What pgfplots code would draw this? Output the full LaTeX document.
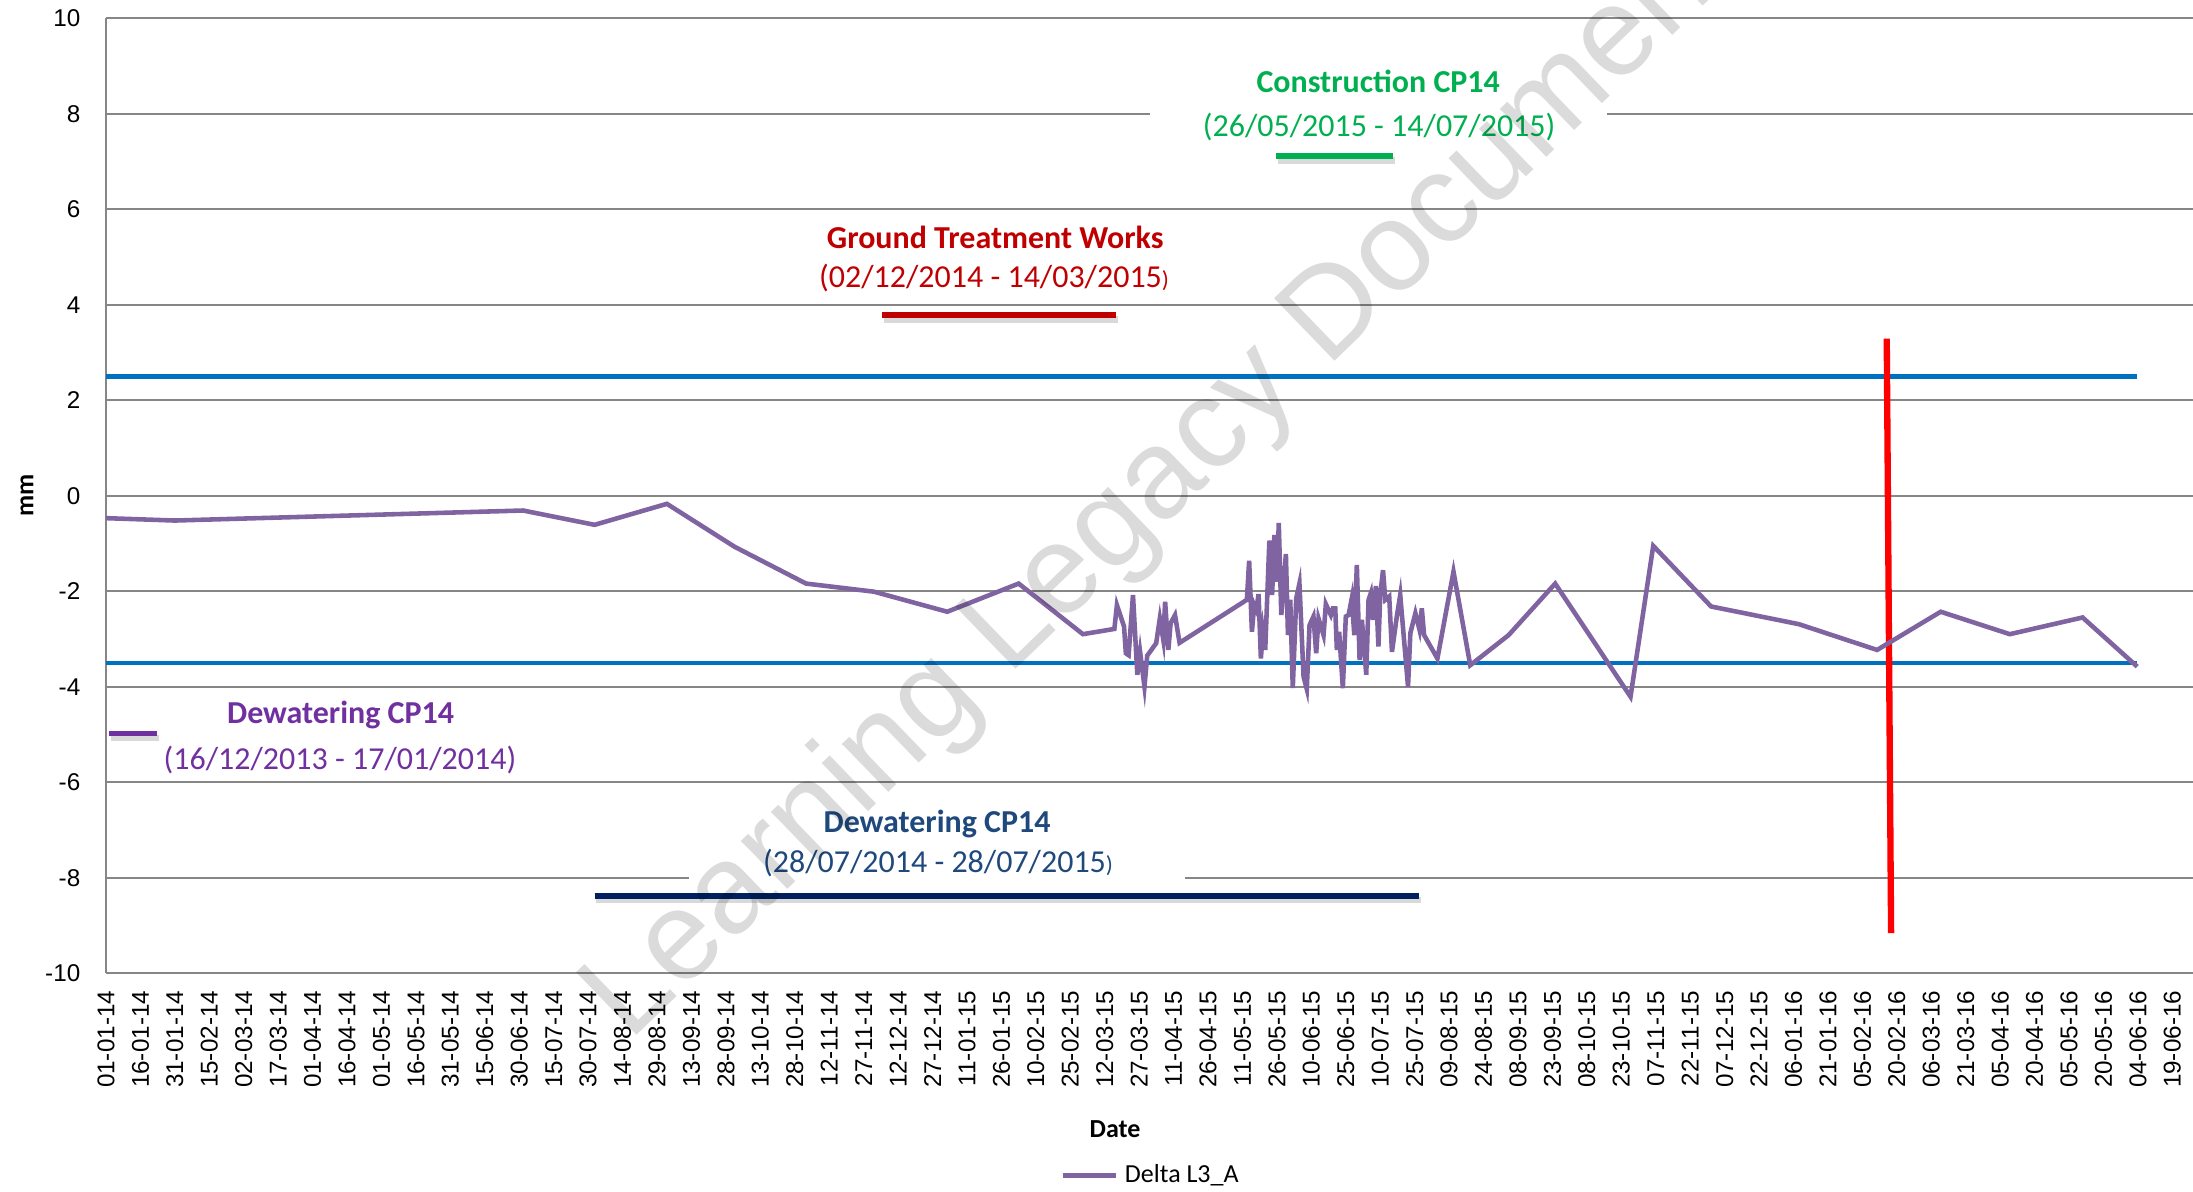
\documentclass[border=0pt]{standalone}
\usepackage{fontspec}
\setmainfont{Carlito}
\newfontfamily\arialf{Liberation Sans}
\usepackage{pgfplots}
\pgfplotsset{compat=1.18}
\definecolor{dataP}{RGB}{128,100,162}
\definecolor{thrB}{RGB}{0,112,192}
\definecolor{gridG}{RGB}{134,134,134}
\definecolor{grnC}{RGB}{0,176,80}
\definecolor{redG}{RGB}{192,0,0}
\definecolor{purD}{RGB}{112,48,160}
\definecolor{navyT}{RGB}{31,73,125}
\definecolor{navyL}{RGB}{0,32,96}
\newcommand\tickfont{\arialf\fontsize{6.9}{8.2}\selectfont}
\newcommand\titfont{\fontsize{9.1}{11}\selectfont\bfseries}
\newcommand\datfont{\fontsize{9.1}{11}\selectfont}
\newcommand\smp{\fontsize{6.6}{8}\selectfont)}
\pgfplotstableread{
day val
0 -0.47
30 -0.52
181.7 -0.31
212.8 -0.61
244.3 -0.17
273.8 -1.07
304.9 -1.84
334.5 -2.01
366.4 -2.43
397.5 -1.84
425.5 -2.90
439.2 -2.79
440.3 -2.29
443.4 -2.74
444.2 -3.30
445.4 -3.34
447.3 -2.08
449.2 -3.75
450.4 -3.27
452.3 -4.00
453.5 -3.35
457.4 -3.09
459.0 -2.57
460.5 -3.02
461.3 -2.22
462.7 -3.23
463.7 -2.67
465.6 -2.50
467.6 -3.08
496.9 -2.18
497.9 -1.36
499.1 -2.85
500.1 -2.29
501.0 -2.39
502.0 -2.06
503.0 -3.41
503.9 -2.85
504.9 -3.23
506.7 -0.94
507.9 -2.08
508.9 -0.82
510.0 -1.80
510.8 -0.57
511.9 -2.50
513.9 -1.22
514.8 -2.92
515.8 -2.18
516.9 -4.03
518.4 -2.15
519.8 -1.84
521.6 -3.79
523.0 -4.05
524.2 -2.71
525.9 -2.53
527.1 -3.30
528.1 -2.57
530.3 -2.92
531.3 -2.27
533.5 -2.50
534.4 -2.36
535.4 -2.36
536.1 -3.23
537.1 -2.85
538.7 -4.03
540.0 -2.53
541.2 -2.50
542.6 -2.15
543.7 -2.92
544.8 -1.45
546.0 -3.44
547.0 -2.60
548.9 -3.75
549.9 -2.18
550.9 -2.04
551.8 -2.60
553.1 -1.89
554.2 -3.16
555.0 -2.08
556.2 -1.56
557.2 -2.18
558.9 -2.11
560.1 -3.27
562.3 -2.50
563.7 -2.08
567.1 -4.00
568.1 -2.88
570.3 -2.46
572.1 -2.81
573.1 -2.36
574.1 -2.92
579.9 -3.41
586.9 -1.59
594.2 -3.55
610.9 -2.92
631.2 -1.84
664.0 -4.21
673.9 -1.05
699.1 -2.32
737.3 -2.69
771.4 -3.23
799.1 -2.43
829.2 -2.90
860.9 -2.55
884.7 -3.58
}\deltadata
\begin{document}
\begin{tikzpicture}
\begin{axis}[
  scale only axis, width=20.87cm, height=9.55cm,
  xmin=0, xmax=909, ymin=-10, ymax=10,
  clip=false,
  axis lines*=left,
  axis line style={gridG, line width=0.6pt},
  ytick={-10,-8,...,10},
  ymajorgrids, grid style={gridG, line width=0.6pt},
  xtick={0,15,...,900},
  xticklabels={01-01-14,16-01-14,31-01-14,15-02-14,02-03-14,17-03-14,01-04-14,16-04-14,01-05-14,16-05-14,31-05-14,15-06-14,30-06-14,15-07-14,30-07-14,14-08-14,29-08-14,13-09-14,28-09-14,13-10-14,28-10-14,12-11-14,27-11-14,12-12-14,27-12-14,11-01-15,26-01-15,10-02-15,25-02-15,12-03-15,27-03-15,11-04-15,26-04-15,11-05-15,26-05-15,10-06-15,25-06-15,10-07-15,25-07-15,09-08-15,24-08-15,08-09-15,23-09-15,08-10-15,23-10-15,07-11-15,22-11-15,07-12-15,22-12-15,06-01-16,21-01-16,05-02-16,20-02-16,06-03-16,21-03-16,05-04-16,20-04-16,05-05-16,20-05-16,04-06-16,19-06-16},
  major tick length=0pt,
  /pgf/number format/assume math mode=true,
  xticklabel style={rotate=90, anchor=east, font=\tickfont, inner sep=0pt},
  yticklabel style={anchor=east, font=\tickfont, inner sep=0pt},
  xticklabel shift=0.17cm, yticklabel shift=0.25cm,
  ylabel={mm},
  ylabel style={at={(axis description cs:-0.0379,0.5)}, anchor=center, rotate=0, font=\fontsize{7.4}{9}\selectfont\bfseries},
  xlabel={Date},
  xlabel style={at={(axis description cs:0.4835,-0.1635)}, anchor=center, font=\fontsize{7.4}{9}\selectfont\bfseries},
  legend style={at={(axis description cs:0.5017,-0.212)}, anchor=center, draw=none, fill=none, font=\fontsize{7.4}{9}\selectfont, inner sep=0pt},
  legend image code/.code={\draw[#1] (0cm,0cm) -- (0.53cm,0cm);},
]
% white boxes behind annotation texts
\fill[white] (axis cs:454.8,9.33) rectangle (axis cs:653.9,7.24);
\fill[white] (axis cs:254,-6.37) rectangle (axis cs:469.8,-8.26);
% thresholds
\addplot[forget plot, thrB, line width=1.25pt] coordinates {(0,2.5) (884.7,2.5)};
\addplot[forget plot, thrB, line width=1.25pt] coordinates {(0,-3.5) (884.7,-3.5)};
% annotation bars with shadows
\addplot[forget plot, black, opacity=0.15, line width=1.8pt] coordinates {(510.5,7.02) (561.3,7.02)};
\addplot[forget plot, grnC, line width=1.6pt] coordinates {(509.7,7.11) (560.5,7.11)};
\addplot[forget plot, black, opacity=0.15, line width=1.8pt] coordinates {(338.7,3.69) (440.8,3.69)};
\addplot[forget plot, redG, line width=1.6pt] coordinates {(337.9,3.78) (440,3.78)};
\addplot[forget plot, black, opacity=0.15, line width=1.8pt] coordinates {(2.2,-5.07) (23.1,-5.07)};
\addplot[forget plot, purD, line width=1.6pt] coordinates {(1.4,-4.98) (22.3,-4.98)};
\addplot[forget plot, black, opacity=0.15, line width=1.8pt] coordinates {(213.6,-8.47) (572.8,-8.47)};
\addplot[forget plot, navyL, line width=1.6pt] coordinates {(212.8,-8.38) (572,-8.38)};
% red marker
\addplot[forget plot, red, line width=1.8pt] coordinates {(775.6,3.29) (777.5,-9.16)};
% data
\addplot[dataP, line width=1.3pt] table[x=day, y=val] {\deltadata};
\addlegendentry{Delta L3\_A}
% annotation texts
\node[text=grnC, font=\titfont] at (axis cs:554.1,8.67) {Construction CP14};
\node[text=grnC, font=\datfont] at (axis cs:554.5,7.73) {(26/05/2015 - 14/07/2015)};
\node[text=redG, font=\titfont] at (axis cs:387.3,5.42) {Ground Treatment Works};
\node[text=redG, font=\datfont] at (axis cs:386.8,4.55) {(02/12/2014 - 14/03/2015\smp};
\node[text=purD, font=\titfont] at (axis cs:102.2,-4.59) {Dewatering CP14};
\node[text=purD, font=\datfont] at (axis cs:101.9,-5.54) {(16/12/2013 - 17/01/2014)};
\node[text=navyT, font=\titfont] at (axis cs:362,-6.88) {Dewatering CP14};
\node[text=navyT, font=\datfont] at (axis cs:362.4,-7.69) {(28/07/2014 - 28/07/2015\smp};
% watermark
\node[anchor=base west, rotate=44, font=\arialf\fontsize{36}{40}\selectfont, text=black, text opacity=0.14, inner sep=0pt] at (axis cs:227.8,-11.46) {Learning Legacy Document};
\end{axis}
\pgfresetboundingbox
\path[use as bounding box] (-1.06cm,-2.178cm) rectangle (20.87cm,9.732cm);
\end{tikzpicture}
\end{document}
